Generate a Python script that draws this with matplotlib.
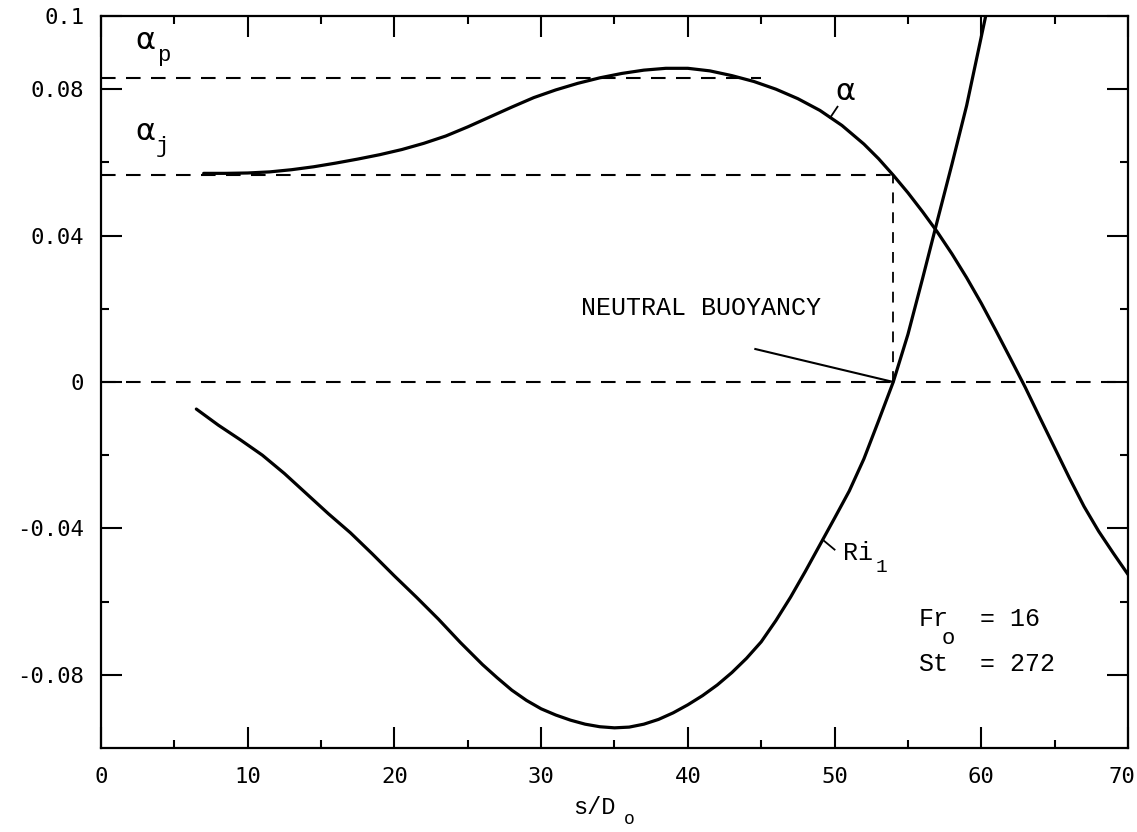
import matplotlib
matplotlib.use('Agg')
from matplotlib import pyplot as plt
from matplotlib.ticker import FixedLocator
from matplotlib.transforms import ScaledTranslation

# alpha curve (s/Do, alpha)
alpha_s = [7.0, 8.5, 10.0, 11.5, 13.0, 14.5, 16.0, 17.5, 19.0, 20.5, 22.0, 23.5, 25.0,
           26.5, 28.0, 29.5, 31.0, 32.5, 34.0, 35.5, 37.0, 38.5, 40.0, 41.5, 43.0,
           44.5, 46.0, 47.5, 49.0, 50.5, 52.0, 53.0, 54.0, 55.0, 56.0, 57.0, 58.0,
           59.0, 60.0, 61.0, 62.0, 63.0, 64.0, 65.0, 66.0, 67.0, 68.0, 69.0, 70.0]
alpha_v = [0.0570, 0.0570, 0.0571, 0.0574, 0.0580, 0.0588, 0.0598, 0.0609, 0.0621,
           0.0635, 0.0652, 0.0672, 0.0697, 0.0724, 0.0751, 0.0777, 0.0798, 0.0816,
           0.0831, 0.0843, 0.0852, 0.0857, 0.0857, 0.0850, 0.0837, 0.0821, 0.0800,
           0.0774, 0.0742, 0.0701, 0.0650, 0.0610, 0.0565, 0.0517, 0.0465, 0.0410,
           0.0350, 0.0285, 0.0215, 0.0140, 0.0063, -0.0015, -0.0098, -0.0180,
           -0.0262, -0.0340, -0.0408, -0.0468, -0.0526]

# Ri_1 curve
ri_s = [6.5, 8.0, 9.5, 11.0, 12.5, 14.0, 15.5, 17.0, 18.5, 20.0, 21.5, 23.0, 24.5,
        26.0, 27.0, 28.0, 29.0, 30.0, 31.0, 32.0, 33.0, 34.0, 35.0,
        36.0, 37.0, 38.0, 39.0, 40.0, 41.0, 42.0, 43.0, 44.0, 45.0, 46.0, 47.0,
        48.0, 49.0, 50.0, 51.0, 52.0, 53.0, 54.0, 55.0, 56.0, 57.0, 58.0, 59.0, 60.3]
ri_v = [-0.0074, -0.0118, -0.0158, -0.0200, -0.0250, -0.0305, -0.0360, -0.0412,
        -0.0470, -0.0530, -0.0588, -0.0648, -0.0712, -0.0772, -0.0808, -0.0842,
        -0.0870, -0.0893, -0.0910, -0.0924, -0.0935, -0.0942, -0.0945,
        -0.0943, -0.0935, -0.0922, -0.0904, -0.0882, -0.0857, -0.0828,
        -0.0794, -0.0755, -0.0710, -0.0652, -0.0588, -0.0518, -0.0445, -0.0372,
        -0.0298, -0.0210, -0.0106, 0.0, 0.0130, 0.0283, 0.0440, 0.0595, 0.0755, 0.1]

# reference levels
alpha_p = 0.083
alpha_p_end = 45.0
alpha_j = 0.0565
s_neutral = 54.0

x_major = [0, 10, 20, 30, 40, 50, 60, 70]
x_labels = ['0', '10', '20', '30', '40', '50', '60', '70']
x_minor = [5, 15, 25, 35, 45, 55, 65]
y_major = [-0.08, -0.04, 0, 0.04, 0.08, 0.1]
y_labels = ['-0.08', '-0.04', '0', '0.04', '0.08', '0.1']
y_minor = [-0.06, -0.02, 0.02, 0.06]

mono = 'Liberation Mono'
tick_font = 'DejaVu Sans Mono'

fig = plt.figure(figsize=(11.37, 8.32), dpi=100)
ax = fig.add_axes([0.0888, 0.101, 0.9033, 0.8798])
ax.set_xlim(0, 70)
ax.set_ylim(-0.1, 0.1)

# dashed construction lines
dash = dict(color='k', lw=1.5, ls=(0, (7, 5)))
ax.plot([0, 70], [0, 0], **dash)
ax.plot([0, alpha_p_end], [alpha_p, alpha_p], **dash)
ax.plot([0, s_neutral], [alpha_j, alpha_j], **dash)
ax.plot([s_neutral, s_neutral], [0, alpha_j], color='k', lw=1.3, ls=(0, (6, 5)))

# curves
ax.plot(alpha_s, alpha_v, color='k', lw=2.3, solid_capstyle='round',
        solid_joinstyle='round')
ax.plot(ri_s, ri_v, color='k', lw=2.3, solid_capstyle='round', solid_joinstyle='round')

# curve labels
ax.plot([49.7, 50.2], [0.0722, 0.0752], color='k', lw=1.3)
ax.text(50.75, 0.0795, 'α', fontsize=22, ha='center', va='center')
ax.text(3.0, 0.0934, 'α', fontsize=22, ha='center', va='center')
ax.text(4.25, 0.0893, 'p', fontsize=16, ha='center', va='center', family=mono)
ax.text(3.0, 0.0685, 'α', fontsize=22, ha='center', va='center')
ax.text(4.2, 0.0643, 'j', fontsize=16, ha='center', va='center', family=mono)

ax.plot([49.25, 50.0], [-0.0433, -0.0458], color='k', lw=1.3)
ax.text(50.55, -0.0466, 'Ri', fontsize=18, ha='left', va='center', family=mono)
ax.text(53.2, -0.0508, '1', fontsize=14, ha='center', va='center', family=mono)

ax.text(32.7, 0.0203, 'NEUTRAL BUOYANCY', fontsize=18, ha='left', va='center',
        family=mono)
ax.plot([44.6, s_neutral], [0.009, 0.0], color='k', lw=1.5)

ax.text(55.7, -0.0647, 'Fr', fontsize=18, ha='left', va='center', family=mono)
ax.text(57.75, -0.0702, 'o', fontsize=16, ha='center', va='center', family=mono)
ax.text(59.9, -0.0647, '= 16', fontsize=18, ha='left', va='center', family=mono)
ax.text(55.7, -0.077, 'St', fontsize=18, ha='left', va='center', family=mono)
ax.text(59.9, -0.077, '= 272', fontsize=18, ha='left', va='center', family=mono)

# x axis label s/Do
ax.text(33.6, -0.1162, 's/D', fontsize=17, ha='center', va='center', family=mono,
        clip_on=False)
ax.text(36.0, -0.1195, 'o', fontsize=13, ha='center', va='center', family=mono,
        clip_on=False)

# ticks
ax.xaxis.set_major_locator(FixedLocator(x_major))
ax.xaxis.set_minor_locator(FixedLocator(x_minor))
ax.yaxis.set_major_locator(FixedLocator(y_major))
ax.yaxis.set_minor_locator(FixedLocator(y_minor))
ax.set_xticklabels(x_labels, family=tick_font)
ax.set_yticklabels(y_labels, family=tick_font)
ax.tick_params(which='both', direction='in', top=True, right=True, width=1.5,
               labelsize=16)
ax.tick_params(which='major', length=15)
ax.tick_params(which='minor', length=6)
ax.tick_params(axis='x', pad=14)
ax.tick_params(axis='y', pad=12)
for sp in ax.spines.values():
    sp.set_linewidth(1.6)

# keep the last x label inside the figure
last = ax.get_xticklabels()[-1]
last.set_horizontalalignment('right')
last.set_transform(last.get_transform() + ScaledTranslation(5 / 72, 0, fig.dpi_scale_trans))

plt.savefig('out.png', dpi=100)
